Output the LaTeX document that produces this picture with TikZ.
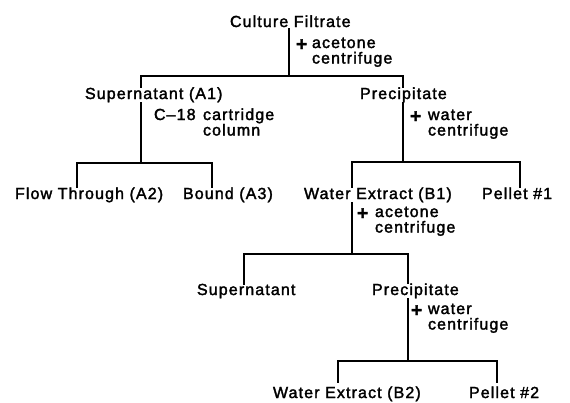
\documentclass[tikz,border=0pt]{standalone}
\usepackage{fontspec}
\setmainfont{Liberation Sans}[LetterSpace=7,FakeBold=2]
\begin{document}
\begin{tikzpicture}[x=1pt,y=-1pt,
  conn/.style={line width=1.6pt, line cap=rect},
  txt/.style={anchor=base west, inner sep=0pt, outer sep=0pt, font=\fontsize{16}{15}\selectfont},
  plus/.style={txt, font=\fontsize{19}{15}\selectfont\bfseries}]
\fill[white] (0,0) rectangle (570,402);
\useasboundingbox (0,0) rectangle (570,402);
% texts
\node[txt] (cf) at (230,27) {Culture Filtrate};
\node[plus] (p1) at (296,50.5) {+};
\node[txt] (l1a) at (312,48) {acetone};
\node[txt] (l1b) at (312,63.5) {centrifuge};
\node[txt] (s1) at (85,99) {Supernatant (A1)};
\node[txt] (pr1) at (360,99) {Precipitate};
\node[txt] (c18) at (154,120) {C--18};
\node[txt] (l2a) at (203,120) {cartridge};
\node[txt] (l2b) at (203,135.5) {column};
\node[plus] (p2) at (410,122.5) {+};
\node[txt] (l3a) at (428,120) {water};
\node[txt] (l3b) at (428,135.5) {centrifuge};
\node[txt] (ft) at (15,199) {Flow Through (A2)};
\node[txt] (bd) at (183,199) {Bound (A3)};
\node[txt] (we1) at (304,199) {Water Extract (B1)};
\node[txt] (pl1) at (482,199) {Pellet \#1};
\node[plus] (p3) at (357,219.5) {+};
\node[txt] (l4a) at (375,217) {acetone};
\node[txt] (l4b) at (375,232.5) {centrifuge};
\node[txt] (s2) at (197,295) {Supernatant};
\node[txt] (pr2) at (372,295) {Precipitate};
\node[plus] (p4) at (411,316.5) {+};
\node[txt] (l5a) at (428,314) {water};
\node[txt] (l5b) at (428,329.5) {centrifuge};
\node[txt] (we2) at (273,398) {Water Extract (B2)};
\node[txt] (pl2) at (469,398) {Pellet \#2};
% junction coordinates
\coordinate (j0) at (289,76);
\coordinate (a1) at (141,76);
\coordinate (b1) at (403,76);
\coordinate (ja) at (141,163);
\coordinate (a2) at (77,163);
\coordinate (b2) at (212,163);
\coordinate (jb) at (403,162);
\coordinate (a3) at (352,162);
\coordinate (b3) at (520,162);
\coordinate (jc) at (352,254);
\coordinate (a4) at (244,254);
\coordinate (b4) at (408,254);
\coordinate (jd) at (408,361);
\coordinate (a5) at (338,361);
\coordinate (b5) at (497,361);
% connectors
\draw[conn] ([yshift=-2pt]cf.south -| j0) -- (j0);
\draw[conn] (a1 |- s1.north) -- (a1) -- (b1) -- (b1 |- pr1.north);
\draw[conn] (a1 |- s1.south) -- (ja);
\draw[conn] (b1 |- pr1.south) -- (jb);
\draw[conn] (a2 |- ft.north) -- (a2) -- (b2) -- (b2 |- bd.north);
\draw[conn] (a3 |- we1.north) -- (a3) -- (b3) -- (b3 |- pl1.north);
\draw[conn] (a3 |- we1.south) -- (jc);
\draw[conn] (a4 |- s2.north) -- (a4) -- (b4) -- (b4 |- pr2.north);
\draw[conn] (b4 |- pr2.south) -- (jd);
\draw[conn] ([yshift=4pt]a5 |- we2.north) -- (a5) -- (b5) -- ([yshift=4pt]b5 |- pl2.north);
\end{tikzpicture}
\end{document}
